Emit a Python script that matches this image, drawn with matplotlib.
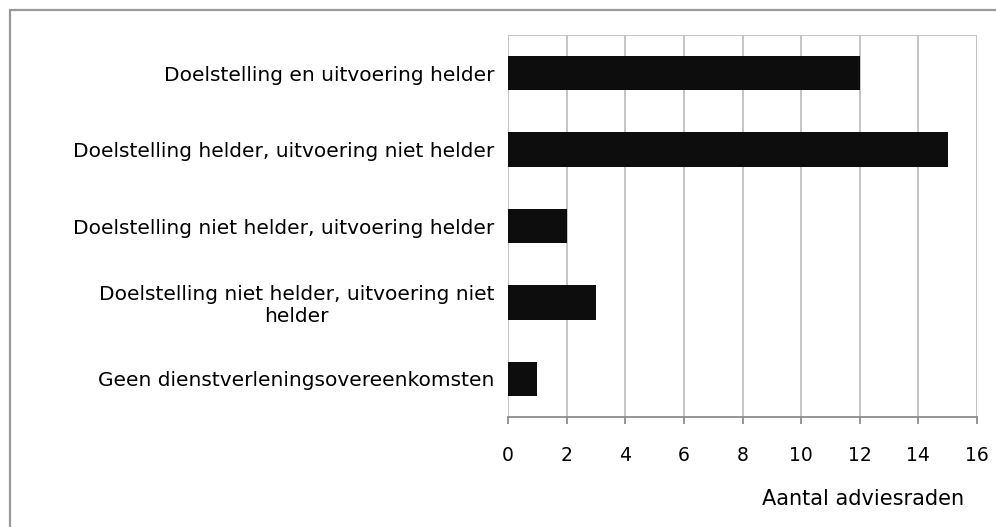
import matplotlib
matplotlib.use("Agg")
import matplotlib.pyplot as plt
from matplotlib.patches import Rectangle

categories = [
    "Doelstelling en uitvoering helder",
    "Doelstelling helder, uitvoering niet helder",
    "Doelstelling niet helder, uitvoering helder",
    "Doelstelling niet helder, uitvoering niet\nhelder",
    "Geen dienstverleningsovereenkomsten",
]
values = [12, 15, 2, 3, 1]
xticks = [0, 2, 4, 6, 8, 10, 12, 14, 16]
xlabel = "Aantal adviesraden"

plt.rcParams['font.family'] = ['DejaVu Sans']
W, H = 996, 527
fig = plt.figure(figsize=(W / 100, H / 100), dpi=100)
ax = fig.add_axes([508 / W, 1 - 417 / H, (977 - 508) / W, (417 - 35) / H])

ypos = list(range(len(categories)))
ax.barh(ypos, values, height=0.45, color="#0d0d0d", zorder=3)
ax.set_ylim(len(categories) - 0.5, -0.5)
ax.set_xlim(0, 16)
ax.set_xticks(xticks)
ax.set_xticklabels([str(t) for t in xticks], fontsize=13.5)
ax.set_yticks(ypos)
ax.set_yticklabels(categories, fontsize=14.5, multialignment="center",
                   linespacing=1.2)
ax.tick_params(axis="y", length=0, pad=10)
ax.tick_params(axis="x", length=5, width=1.3, color="#8c8c8c", pad=16)
ax.xaxis.grid(True, color="#bfbfbf", linewidth=1.3, zorder=0)
for s in ["left", "right", "top"]:
    ax.spines[s].set_visible(False)
ax.spines["bottom"].set_color("#8c8c8c")
ax.spines["bottom"].set_linewidth(1.3)
ax.axhline(-0.5, color="#bfbfbf", linewidth=1.3, zorder=0)

fig.text(964 / W, 1 - 499 / H, xlabel, ha="right", va="center", fontsize=15)

fig.patches.append(Rectangle((9.5 / W, -0.1), 1.2, 1 - 9.5 / H + 0.1,
                             transform=fig.transFigure, fill=False,
                             edgecolor="#999999", linewidth=1.6))

fig.savefig("out.png", dpi=100)
